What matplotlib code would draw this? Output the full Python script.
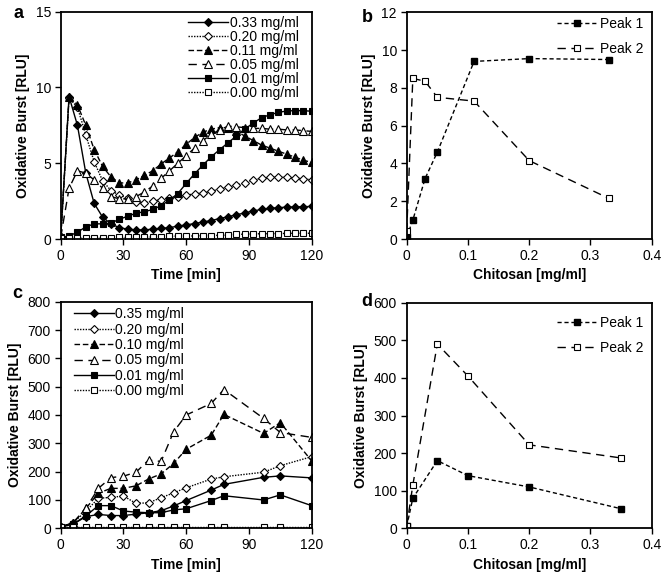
import matplotlib
matplotlib.use("Agg")
import matplotlib.pyplot as plt
import numpy as np

plt.rcParams['font.family'] = ['Liberation Sans', 'DejaVu Sans']
plt.rcParams['font.size'] = 10

# ---------------- Data ----------------
# Panel a
time_a = list(range(0, 121, 4))
a_labels = ["0.33 mg/ml", "0.20 mg/ml", "0.11 mg/ml", "0.05 mg/ml", "0.01 mg/ml", "0.00 mg/ml"]
a_033 = [0.1, 9.4, 7.5, 4.35, 2.35, 1.45, 1.0, 0.75, 0.65, 0.6, 0.6, 0.65, 0.7, 0.75, 0.85, 0.93,
         1.02, 1.12, 1.22, 1.35, 1.47, 1.6, 1.72, 1.85, 1.95, 2.02, 2.07, 2.1, 2.12, 2.13, 2.15]
a_020 = [0.1, 9.3, 8.7, 6.86, 5.1, 3.85, 3.2, 2.9, 2.7, 2.45, 2.4, 2.5, 2.6, 2.7, 2.8, 2.9,
         2.97, 3.05, 3.15, 3.3, 3.4, 3.55, 3.7, 3.9, 4.0, 4.06, 4.08, 4.06, 4.02, 3.97, 3.9]
a_011 = [0.1, 9.4, 8.85, 7.5, 5.9, 4.8, 4.1, 3.7, 3.7, 3.9, 4.2, 4.5, 4.95, 5.35, 5.75, 6.25,
         6.7, 7.05, 7.25, 7.35, 7.3, 7.1, 6.8, 6.5, 6.2, 6.0, 5.8, 5.6, 5.4, 5.2, 5.05]
a_005 = [0.1, 3.35, 4.5, 4.35, 3.9, 3.35, 2.8, 2.65, 2.65, 2.8, 3.1, 3.5, 4.0, 4.5, 5.0, 5.5,
         6.0, 6.5, 6.9, 7.2, 7.45, 7.4, 7.35, 7.3, 7.3, 7.25, 7.25, 7.2, 7.2, 7.15, 7.1]
a_001 = [0.1, 0.2, 0.45, 0.8, 1.0, 1.0, 1.05, 1.3, 1.5, 1.7, 1.8, 1.95, 2.2, 2.57, 3.0, 3.67,
         4.3, 4.88, 5.43, 5.9, 6.35, 6.8, 7.25, 7.65, 8.0, 8.2, 8.35, 8.45, 8.47, 8.47, 8.43]
a_000 = [0.08, 0.08, 0.06, 0.06, 0.06, 0.07, 0.08, 0.1, 0.1, 0.12, 0.12, 0.13, 0.15, 0.17, 0.2, 0.2,
         0.2, 0.22, 0.22, 0.25, 0.25, 0.3, 0.32, 0.33, 0.35, 0.35, 0.36, 0.37, 0.38, 0.38, 0.38]

# Panel b
chitosan_b = [0, 0.01, 0.03, 0.05, 0.11, 0.2, 0.33]
b_peak1 = [0.1, 1.0, 3.2, 4.6, 9.4, 9.55, 9.5]
b_peak2 = [0.4, 8.5, 8.35, 7.5, 7.3, 4.15, 2.15]

# Panel c
time_c = [0, 6, 12, 18, 24, 30, 36, 42, 48, 54, 60, 72, 78, 97, 105, 120]
c_labels = ["0.35 mg/ml", "0.20 mg/ml", "0.10 mg/ml", "0.05 mg/ml", "0.01 mg/ml", "0.00 mg/ml"]
c_035 = [5, 15, 41, 49, 45, 45, 50, 55, 62, 79, 98, 135, 155, 180, 185, 178]
c_020 = [5, 20, 60, 106, 109, 114, 88, 90, 108, 125, 143, 174, 182, 198, 221, 253]
c_010 = [5, 20, 70, 124, 141, 141, 150, 174, 192, 229, 279, 329, 402, 335, 373, 238]
c_005 = [5, 20, 70, 141, 179, 184, 198, 241, 236, 341, 400, 441, 490, 388, 338, 321]
c_001 = [5, 15, 44, 80, 80, 61, 57, 55, 55, 65, 69, 98, 115, 100, 118, 80]
c_000 = [5, 5, 5, 5, 5, 5, 5, 5, 5, 5, 5, 5, 5, 5, 5, 5]

# Panel d
chitosan_d = [0, 0.01, 0.05, 0.1, 0.2, 0.35]
d_peak1 = [5, 80, 180, 140, 110, 52]
d_peak2 = [5, 115, 490, 405, 222, 187]

# ---------------- Styles ----------------
short_dash = (0, (4, 2))
long_dash = (0, (6, 4))
dotted = (0, (1, 1))
series_styles = [
    dict(ls='-', marker='D', mfc='black', ms=3.8),
    dict(ls=dotted, marker='D', mfc='white', ms=3.8),
    dict(ls=short_dash, marker='^', mfc='black', ms=5.3),
    dict(ls=long_dash, marker='^', mfc='white', ms=5.3),
    dict(ls='-', marker='s', mfc='black', ms=4.8),
    dict(ls=dotted, marker='s', mfc='white', ms=4.8),
]

fig = plt.figure(figsize=(6.62, 5.77), dpi=100)

W, H = 662.0, 577.0
def add_ax(x0, x1, ytop, ybot):
    return fig.add_axes([x0 / W, 1 - ybot / H, (x1 - x0) / W, (ybot - ytop) / H])

ax_a = add_ax(60.7, 311.7, 11.7, 239.0)
ax_b = add_ax(406.7, 651.7, 12.3, 239.0)
ax_c = add_ax(60.7, 311.7, 301.7, 528.3)
ax_d = add_ax(406.7, 651.7, 302.7, 528.3)

def style_axes(ax):
    for s in ax.spines.values():
        s.set_linewidth(1.3)
        s.set_color('black')
    ax.tick_params(direction='out', length=4, width=1, labelsize=10, pad=3)

def lab(ax, xl):
    ax.set_xlabel(xl, fontsize=10, fontweight='bold', labelpad=4)
    ax.set_ylabel("Oxidative Burst [RLU]", fontsize=10, fontweight='bold', labelpad=4)

# Panel a
for y, lbl, st in zip([a_033, a_020, a_011, a_005, a_001, a_000], a_labels, series_styles):
    ax_a.plot(time_a, y, color='black', lw=1.0, mec='black', mew=0.8, label=lbl,
              linestyle=st['ls'], marker=st['marker'], mfc=st['mfc'], ms=st['ms'])
ax_a.set_xlim(0, 120)
ax_a.set_ylim(0, 15)
ax_a.set_xticks([0, 30, 60, 90, 120])
ax_a.set_yticks([0, 5, 10, 15])
style_axes(ax_a)
lab(ax_a, "Time [min]")
ax_a.legend(loc='upper right', frameon=False, fontsize=10, numpoints=1, handlelength=2.9,
            labelspacing=0.0, handletextpad=0.1, borderaxespad=0.0, bbox_to_anchor=(0.97, 1.005))

# Panel b
ax_b.plot(chitosan_b, b_peak1, color='black', lw=1.0, ls=(0, (3, 2)), marker='s', mfc='black',
          mec='black', ms=5.0, label='Peak 1')
ax_b.plot(chitosan_b, b_peak2, color='black', lw=1.0, ls=(0, (6, 4)), marker='s', mfc='white',
          mec='black', ms=5.0, mew=0.8, label='Peak 2')
ax_b.set_xlim(0, 0.4)
ax_b.set_ylim(0, 12)
ax_b.set_xticks([0, 0.1, 0.2, 0.3, 0.4])
ax_b.set_xticklabels(["0", "0.1", "0.2", "0.3", "0.4"])
ax_b.set_yticks(range(0, 13, 2))
style_axes(ax_b)
lab(ax_b, "Chitosan [mg/ml]")
ax_b.legend(loc='upper right', frameon=False, fontsize=10, numpoints=1, handlelength=2.9,
            labelspacing=0.8, handletextpad=0.2, borderaxespad=0.0, bbox_to_anchor=(0.99, 1.005))

# Panel c
for y, lbl, st in zip([c_035, c_020, c_010, c_005, c_001, c_000], c_labels, series_styles):
    ax_c.plot(time_c, y, color='black', lw=1.0, mec='black', mew=0.8, label=lbl,
              linestyle=st['ls'], marker=st['marker'], mfc=st['mfc'], ms=st['ms'])
ax_c.set_xlim(0, 120)
ax_c.set_ylim(0, 800)
ax_c.set_xticks([0, 30, 60, 90, 120])
ax_c.set_yticks(range(0, 801, 100))
style_axes(ax_c)
lab(ax_c, "Time [min]")
ax_c.legend(loc='upper left', frameon=False, fontsize=10, numpoints=1, handlelength=2.9,
            labelspacing=0.1, handletextpad=0.1, borderaxespad=0.0, bbox_to_anchor=(0.03, 1.0))

# Panel d
ax_d.plot(chitosan_d, d_peak1, color='black', lw=1.0, ls=(0, (3, 2)), marker='s', mfc='black',
          mec='black', ms=5.0, label='Peak 1')
ax_d.plot(chitosan_d, d_peak2, color='black', lw=1.0, ls=(0, (6, 4)), marker='s', mfc='white',
          mec='black', ms=5.0, mew=0.8, label='Peak 2')
ax_d.set_xlim(0, 0.4)
ax_d.set_ylim(0, 600)
ax_d.set_xticks([0, 0.1, 0.2, 0.3, 0.4])
ax_d.set_xticklabels(["0", "0.1", "0.2", "0.3", "0.4"])
ax_d.set_yticks(range(0, 601, 100))
style_axes(ax_d)
lab(ax_d, "Chitosan [mg/ml]")
ax_d.legend(loc='upper right', frameon=False, fontsize=10, numpoints=1, handlelength=2.9,
            labelspacing=0.8, handletextpad=0.2, borderaxespad=0.0, bbox_to_anchor=(0.99, 0.965))

# Panel letters
for txt, x, y in [("a", 18, 14), ("b", 367, 17), ("c", 17, 293), ("d", 367, 302)]:
    fig.text(x / W, 1 - y / H, txt, fontsize=13, fontweight='bold', ha='center', va='center')

fig.savefig("out.png", dpi=100)
